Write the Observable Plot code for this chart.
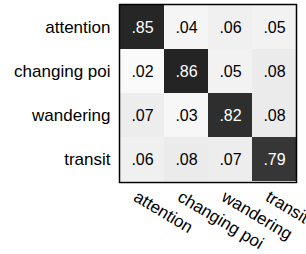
<!DOCTYPE html>
<html>
<head>
<meta charset="utf-8">
<script src="https://cdn.jsdelivr.net/npm/d3@7"></script>
<script src="https://cdn.jsdelivr.net/npm/@observablehq/plot@0.6"></script>
<style>
  html, body { margin: 0; padding: 0; background: #fff; }
</style>
</head>
<body>
<div id="chart"></div>
<script>
const categories = ["attention", "changing poi", "wandering", "transit"];
const rowAttention = [0.85, 0.04, 0.06, 0.05];
const rowChangingPoi = [0.02, 0.86, 0.05, 0.08];
const rowWandering = [0.07, 0.03, 0.82, 0.08];
const rowTransit = [0.06, 0.08, 0.07, 0.79];
const rows = [rowAttention, rowChangingPoi, rowWandering, rowTransit];

const cells = [];
rows.forEach((r, i) => r.forEach((v, j) => cells.push({actual: categories[i], predicted: categories[j], value: v})));

const fmt = v => d3.format(".2f")(v).replace(/^0/, "");
const font = "'Liberation Sans', Arial, Helvetica, sans-serif";

const chart = Plot.plot({
  width: 306,
  height: 254,
  marginLeft: 119,
  marginRight: 10,
  marginTop: 4,
  marginBottom: 72,
  style: {fontFamily: font, background: "#fff"},
  x: {type: "band", domain: categories, padding: 0, axis: null},
  y: {type: "band", domain: categories, padding: 0, label: null},
  color: {type: "linear", domain: [0, 1], range: ["#ffffff", "#000000"]},
  marks: [
    Plot.cell(cells, {x: "predicted", y: "actual", fill: "value", inset: 0}),
    Plot.text(cells, {x: "predicted", y: "actual", text: d => fmt(d.value), fill: d => d.value > 0.5 ? "white" : "black", fontSize: 16}),
    Plot.frame({stroke: "black", strokeWidth: 1.5}),
    Plot.axisY({tickSize: 0, tickPadding: 9, fontSize: 17, label: null}),
    Plot.text(categories, {x: d => d, frameAnchor: "bottom", text: d => d, rotate: 31, textAnchor: "start", dx: -10, dy: 17.5, fontSize: 17, fill: "black"})
  ]
});
document.getElementById("chart").appendChild(chart);
</script>
</body>
</html>
